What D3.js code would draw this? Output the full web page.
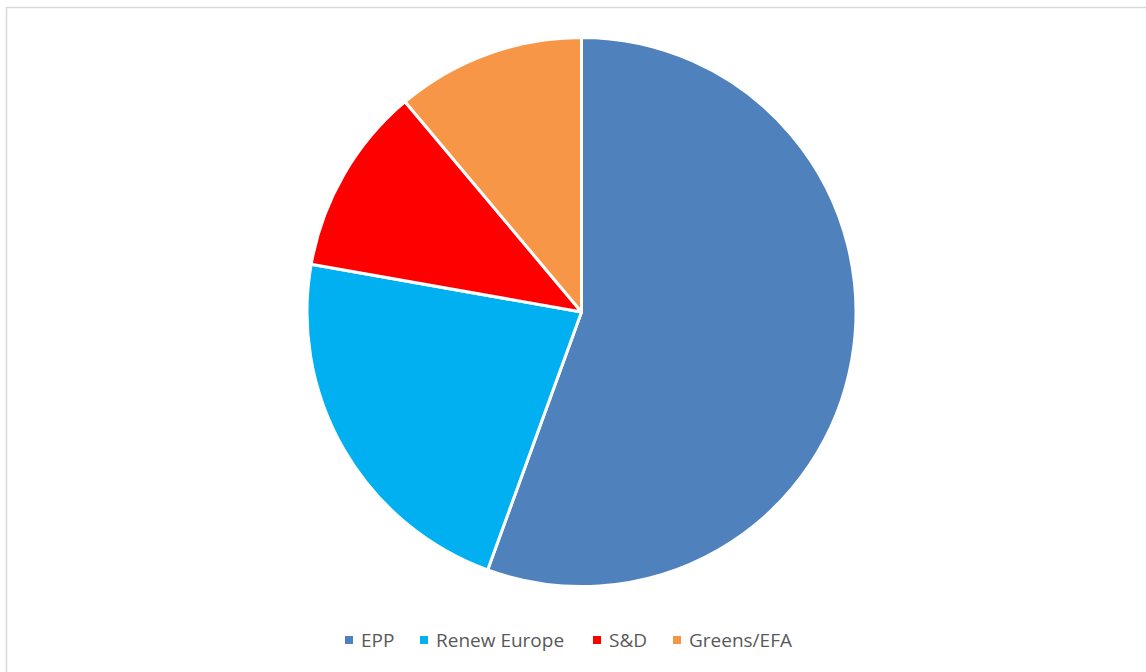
<!DOCTYPE html>
<html>
<head>
<meta charset="utf-8">
<script src="https://cdn.jsdelivr.net/npm/d3@7"></script>
<style>
  body { margin: 0; background: #fff; }
  svg { display: block; }
</style>
</head>
<body>
<svg id="chart"></svg>
<script>
/* DATA */
const groups = ["EPP", "Renew Europe", "S&D", "Greens/EFA"];
const seats = [5, 2, 1, 1];
const colors = ["#4F81BD", "#00B0F0", "#FF0000", "#F79646"];

/* LAYOUT */
const width = 1146,
  height = 672,
  cx = 581.5,
  cy = 312,
  radius = 274.5;

const svg = d3.select("#chart")
  .attr("width", width)
  .attr("height", height);

// chart border
svg.append("rect")
  .attr("x", 6.5)
  .attr("y", 7.5)
  .attr("width", width + 10)
  .attr("height", height + 10)
  .attr("fill", "#fff")
  .attr("stroke", "#d9d9d9")
  .attr("stroke-width", 1.5);

const data = groups.map((g, i) => ({ name: g, value: seats[i], color: colors[i] }));

const pie = d3.pie()
  .value(d => d.value)
  .sort(null);

const arc = d3.arc()
  .innerRadius(0)
  .outerRadius(radius);

svg.append("g")
  .attr("transform", `translate(${cx}, ${cy})`)
  .selectAll("path")
  .data(pie(data))
  .join("path")
  .attr("d", arc)
  .attr("fill", d => d.data.color)
  .attr("stroke", "#fff")
  .attr("stroke-width", 3)
  .attr("stroke-linejoin", "round");

// legend
const legendX = [345, 420, 593, 673];
const legend = svg.append("g")
  .selectAll("g")
  .data(data)
  .join("g")
  .attr("transform", (d, i) => `translate(${legendX[i]}, 640)`);

legend.append("rect")
  .attr("x", 0)
  .attr("y", -4)
  .attr("width", 8)
  .attr("height", 8)
  .attr("fill", d => d.color);

legend.append("text")
  .attr("x", 16)
  .attr("y", 0)
  .attr("dy", "0.35em")
  .attr("font-family", "'Open Sans', sans-serif")
  .attr("font-size", 19)
  .attr("fill", "#595959")
  .text(d => d.name);
</script>
</body>
</html>
